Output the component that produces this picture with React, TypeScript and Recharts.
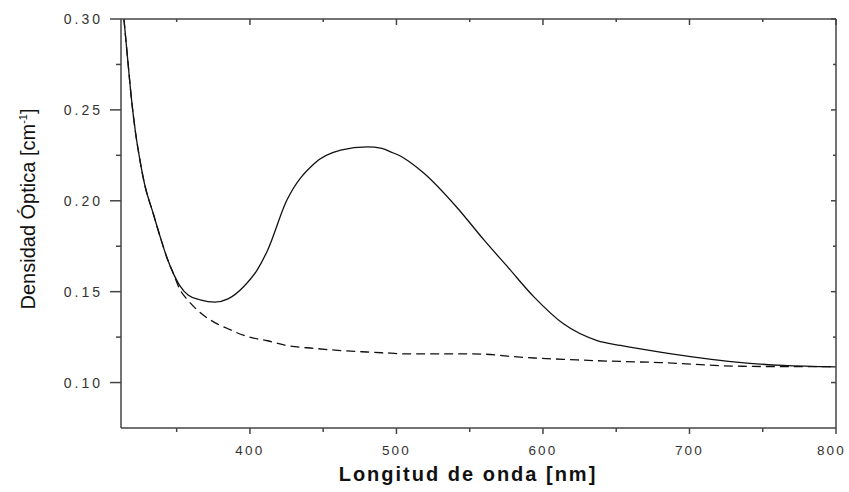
import React from 'react'
import { LineChart, Line, XAxis, YAxis } from 'recharts'

// wavelength (nm) and optical density (cm^-1)
const wavelengths = [
  314, 317, 319, 322, 325, 328, 334, 339, 343, 348, 352, 358, 366, 376, 385, 396, 405,
  412, 425, 444, 462, 480, 490, 496, 503, 510, 519, 541, 560, 576, 594, 614, 637, 653,
  680, 732, 764, 800,
]
const irradiated = [
  0.3, 0.274, 0.257, 0.237, 0.222, 0.2095, 0.193, 0.1795, 0.1695, 0.1595, 0.1535, 0.148,
  0.1455, 0.1442, 0.146, 0.153, 0.162, 0.1727, 0.2, 0.2205, 0.2278, 0.2296, 0.2288,
  0.2269, 0.2245, 0.2208, 0.215, 0.1966, 0.1782, 0.1635, 0.147, 0.1323, 0.1231, 0.1204,
  0.1167, 0.1112, 0.1094, 0.1086,
]
const reference = [
  0.3, 0.274, 0.257, 0.237, 0.222, 0.2095, 0.193, 0.1795, 0.1695, 0.1595, 0.1515, 0.145,
  0.1385, 0.133, 0.1296, 0.1259, 0.124, 0.123, 0.1204, 0.1188, 0.1176, 0.1168, 0.1164,
  0.1162, 0.1158, 0.1158, 0.1158, 0.1158, 0.1156, 0.1145, 0.1135, 0.1128, 0.112, 0.1116,
  0.111, 0.109, 0.1088, 0.1088,
]
const xTicks = [350, 400, 450, 500, 550, 600, 650, 700, 750, 800]
const yTicks = [0.1, 0.125, 0.15, 0.175, 0.2, 0.225, 0.25, 0.275, 0.3]

const data = wavelengths.map((wl, i) => ({
  wl,
  irradiated: irradiated[i],
  reference: reference[i],
}))

const AXIS = '#444'
const LABEL = '#333'
const labelFont = 'Liberation Sans, Arial, sans-serif'

const isMajorX = (v: number) => v % 100 === 0
const isMajorY = (v: number) => Math.round(v * 1000) % 50 === 0

const BottomTick = (props: any) => {
  const { x, y, payload } = props
  const major = isMajorX(payload.value)
  // last label sits against the right edge, as in the original
  const last = payload.value === 800
  return (
    <g>
      <line x1={x} x2={x} y1={y} y2={y + (major ? 6 : 4)} stroke={AXIS} strokeWidth={1.5} />
      {major && (
        <text
          x={last ? 846 : x}
          y={y + 27}
          textAnchor={last ? 'end' : 'middle'}
          fontSize={13.5}
          letterSpacing={2.2}
          fill={LABEL}
          fontFamily={labelFont}
        >
          {payload.value}
        </text>
      )}
    </g>
  )
}

const TopTick = (props: any) => {
  const { x, y, payload } = props
  const major = isMajorX(payload.value)
  return <line x1={x} x2={x} y1={y} y2={y + (major ? 6 : 3)} stroke={AXIS} strokeWidth={1.5} />
}

const LeftTick = (props: any) => {
  const { x, y, payload } = props
  const major = isMajorY(payload.value)
  return (
    <g>
      <line x1={x - (major ? 11 : 5)} x2={x} y1={y} y2={y} stroke={AXIS} strokeWidth={1.5} />
      {major && (
        <text
          x={x - 18}
          y={y + 5}
          textAnchor="end"
          fontSize={14}
          letterSpacing={3}
          fill={LABEL}
          fontFamily={labelFont}
        >
          {payload.value.toFixed(2)}
        </text>
      )}
    </g>
  )
}

const RightTick = (props: any) => {
  const { x, y, payload } = props
  const major = isMajorY(payload.value)
  return <line x1={x - (major ? 5 : 3)} x2={x} y1={y} y2={y} stroke={AXIS} strokeWidth={1.5} />
}

export default function App() {
  return (
    <div style={{ position: 'absolute', left: 0, top: 0, width: 849, height: 492, background: '#fff' }}>
      <LineChart width={849} height={492} data={data} margin={{ top: 0, right: 0, bottom: 0, left: 0 }}>
        <XAxis
          dataKey="wl"
          type="number"
          domain={[312, 800]}
          ticks={xTicks}
          height={64}
          tickSize={0}
          tickMargin={0}
          tickLine={false}
          tick={<BottomTick />}
          interval={0}
          axisLine={{ stroke: AXIS, strokeWidth: 1.5 }}
          allowDataOverflow
        />
        <XAxis
          xAxisId="top"
          dataKey="wl"
          type="number"
          orientation="top"
          domain={[312, 800]}
          ticks={xTicks}
          height={19}
          tickSize={0}
          tickMargin={0}
          tickLine={false}
          tick={<TopTick />}
          interval={0}
          axisLine={{ stroke: AXIS, strokeWidth: 1.5 }}
          allowDataOverflow
        />
        <YAxis
          type="number"
          domain={[0.075, 0.3]}
          ticks={yTicks}
          width={121}
          tickSize={0}
          tickMargin={0}
          tickLine={false}
          tick={<LeftTick />}
          interval={0}
          axisLine={{ stroke: AXIS, strokeWidth: 1.5 }}
          allowDataOverflow
        />
        <YAxis
          yAxisId="right"
          orientation="right"
          type="number"
          domain={[0.075, 0.3]}
          ticks={yTicks}
          width={13}
          tickSize={0}
          tickMargin={0}
          tickLine={false}
          tick={<RightTick />}
          interval={0}
          axisLine={{ stroke: AXIS, strokeWidth: 1.5 }}
          allowDataOverflow
        />
        <Line
          type="monotone"
          dataKey="reference"
          stroke="#111"
          strokeWidth={1.3}
          strokeDasharray="9 5"
          dot={false}
          isAnimationActive={false}
        />
        <Line
          type="monotone"
          dataKey="irradiated"
          stroke="#111"
          strokeWidth={1.3}
          dot={false}
          isAnimationActive={false}
        />
      </LineChart>

      <div
        style={{
          position: 'absolute',
          left: 468,
          top: 474,
          transform: 'translate(-50%, -50%)',
          whiteSpace: 'nowrap',
          fontFamily: labelFont,
          fontWeight: 'bold',
          fontSize: 20,
          letterSpacing: 2,
          color: '#111',
        }}
      >
        Longitud de onda [nm]
      </div>
      <div
        style={{
          position: 'absolute',
          left: 28,
          top: 209,
          transform: 'translate(-50%, -50%) rotate(-90deg)',
          whiteSpace: 'nowrap',
          fontFamily: labelFont,
          fontSize: 20,
          color: '#111',
        }}
      >
        Densidad Óptica [cm<sup style={{ fontSize: 11 }}>-1</sup>]
      </div>
    </div>
  )
}
